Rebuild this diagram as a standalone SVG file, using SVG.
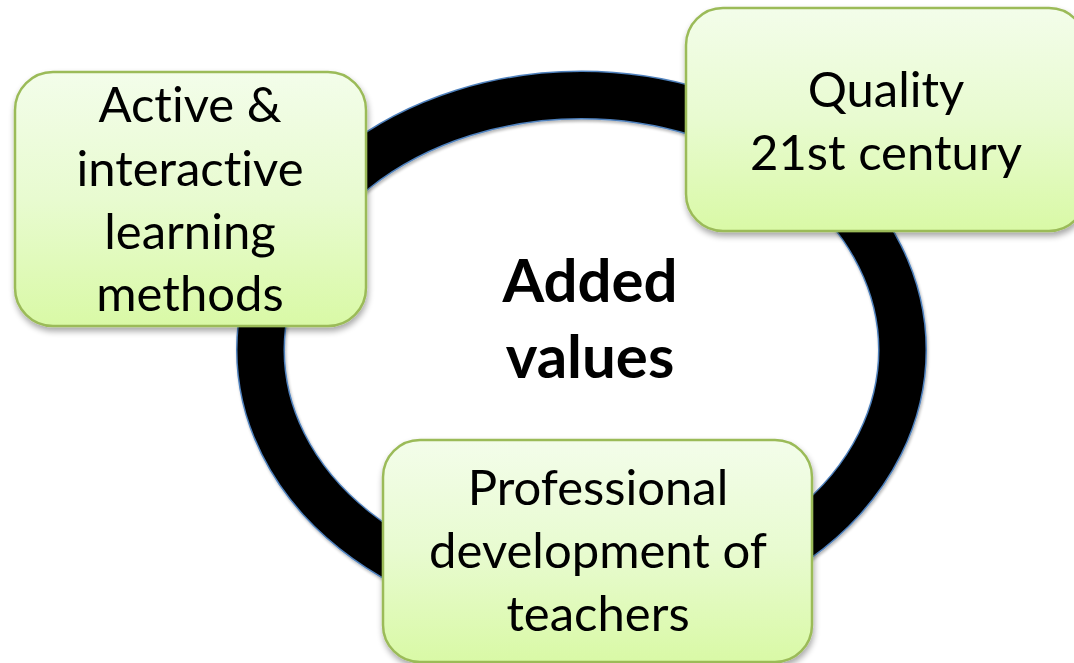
<svg xmlns="http://www.w3.org/2000/svg" width="1074" height="663" viewBox="0 0 1074 663">
<defs>
<linearGradient id="boxFill" x1="0" y1="0" x2="0" y2="1">
<stop offset="0" stop-color="#F3FDEA"/>
<stop offset="0.5" stop-color="#E8FBD0"/>
<stop offset="1" stop-color="#D9F9A6"/>
</linearGradient>
<filter id="shadow" x="-10%" y="-10%" width="125%" height="130%">
<feGaussianBlur in="SourceAlpha" stdDeviation="3"/>
<feOffset dx="1" dy="4" result="b"/>
<feComponentTransfer><feFuncA type="linear" slope="0.35"/></feComponentTransfer>
<feMerge><feMergeNode/><feMergeNode in="SourceGraphic"/></feMerge>
</filter>
<filter id="ringShadow" x="-10%" y="-10%" width="120%" height="120%">
<feGaussianBlur in="SourceAlpha" stdDeviation="1.5"/>
<feOffset dx="1" dy="2" result="b"/>
<feComponentTransfer><feFuncA type="linear" slope="0.3"/></feComponentTransfer>
<feMerge><feMergeNode/><feMergeNode in="SourceGraphic"/></feMerge>
</filter>
</defs>
<style>
.box{fill:url(#boxFill);stroke:#9BBB59;stroke-width:2.5;filter:url(#shadow)}
.lbl{font-family:Lato,"Liberation Sans",sans-serif;font-size:49px;fill:#000;text-anchor:middle;font-variant-ligatures:none}
.center{font-family:Lato,"Liberation Sans",sans-serif;font-size:60px;font-weight:bold;fill:#000;text-anchor:middle;font-variant-ligatures:none}
</style>
<rect width="1074" height="663" fill="#FFFFFF"/>
<g id="connectors">
<g id="ring" filter="url(#ringShadow)">
<ellipse cx="581.5" cy="350" rx="321" ry="255" fill="none" stroke="#4F81BD" stroke-width="49"/>
<ellipse cx="581.5" cy="350" rx="321" ry="255" fill="none" stroke="#000000" stroke-width="46"/>
</g>
</g>
<g id="center-label">
<text class="center" x="590" y="302">Added</text>
<text class="center" x="590" y="378">values</text>
</g>
<g id="node-active">
<rect class="box" x="15" y="72" width="351" height="254" rx="38" ry="38"/>
<text class="lbl" x="190" y="122">Active &amp;</text>
<text class="lbl" x="190" y="186">interactive</text>
<text class="lbl" x="190" y="249">learning</text>
<text class="lbl" x="190" y="311">methods</text>
</g>
<g id="node-quality">
<rect class="box" x="686" y="8" width="400" height="223" rx="37" ry="37"/>
<text class="lbl" x="886" y="107">Quality</text>
<text class="lbl" x="886" y="170">21st century</text>
</g>
<g id="node-professional">
<rect class="box" x="383" y="440" width="429" height="222" rx="37" ry="37"/>
<text class="lbl" x="598" y="505">Professional</text>
<text class="lbl" x="598" y="568">development of</text>
<text class="lbl" x="598" y="631">teachers</text>
</g>
</svg>
